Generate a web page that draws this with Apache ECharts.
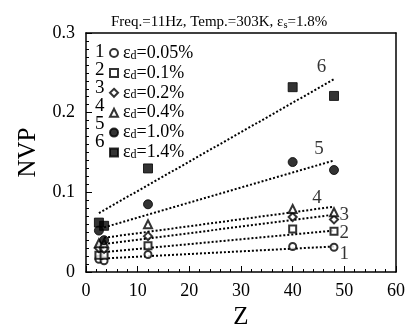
<!DOCTYPE html>
<html><head><meta charset="utf-8">
<script src="https://cdn.jsdelivr.net/npm/echarts@6/dist/echarts.min.js"></script>
<style>html,body{margin:0;padding:0;background:#fff}#c{width:408px;height:327px}</style>
</head><body><div id="c"></div>
<script>
const seriesNames = ['0.05%','0.1%','0.2%','0.4%','1.0%','1.4%'];
const zValues = [2.5, 3.5, 12, 40, 48];
const nvp1 = [0.016, 0.014, 0.022, 0.032, 0.031];
const nvp2 = [0.021, 0.021, 0.033, 0.054, 0.051];
const nvp3 = [0.030, 0.029, 0.045, 0.069, 0.066];
const nvp4 = [0.036, 0.036, 0.060, 0.079, 0.075];
const nvp5 = [0.052, 0.040, 0.085, 0.138, 0.128];
const nvp6 = [0.062, 0.058, 0.130, 0.232, 0.221];
const fitZ = [3.5, 48];
const fit1 = [0.017, 0.032];
const fit2 = [0.025, 0.052];
const fit3 = [0.035, 0.072];
const fit4 = [0.043, 0.082];
const fit5 = [0.056, 0.140];
const fit6Z = [2.5, 48];
const fit6 = [0.074, 0.242];
const lineLabels = ['1','2','3','4','5','6'];
const lineLabelZ = [50, 50, 50, 44.7, 45.1, 45.6];
const lineLabelV = [0.022, 0.049, 0.072, 0.093, 0.155, 0.257];

const allNvp = [nvp1,nvp2,nvp3,nvp4,nvp5,nvp6];
const fits = [fit1,fit2,fit3,fit4,fit5,fit6];
const symbols = ['emptyCircle','emptyRect','emptyDiamond','emptyTriangle','circle','rect'];
const sizes = [7,7,8,8,9,9];
const FONT = 'Liberation Serif';

const series = [];
allNvp.forEach((arr,i)=>{
  series.push({
    name: seriesNames[i], type:'scatter', symbol: symbols[i], symbolSize: sizes[i],
    itemStyle:{color:'#000', borderColor:'#000', borderWidth:1},
    data: zValues.map((z,j)=>[z,arr[j]]), z:3
  });
});
fits.forEach((arr,i)=>{
  const zz = i===5 ? fit6Z : fitZ;
  series.push({
    type:'line', symbol:'none', silent:true,
    lineStyle:{color:'#000', width:2, type:[2,2]},
    data: zz.map((z,j)=>[z,arr[j]]), z:2
  });
});
series.push({
  type:'scatter', symbolSize:0, silent:true,
  data: lineLabels.map((t,i)=>({value:[lineLabelZ[i], lineLabelV[i]], name:t})),
  label:{show:true, position:'inside', formatter:p=>p.name, color:'#000', fontFamily:FONT, fontSize:19}
});

const chart = echarts.init(document.getElementById('c'), null, {renderer:'canvas'});
const legendGraphics = lineLabels.map((t,i)=>({
  type:'text', left: 95, top: 43 + i*17.9,
  style:{text:t, font:'19px "Liberation Serif"', fill:'#000'}
}));
chart.setOption({
  animation:false,
  backgroundColor:'#fff',
  title:{text:'Freq.=11Hz, Temp.=303K, {e|ε}{s|s}=1.8%', left:106, top:9,
    textStyle:{fontFamily:FONT, fontSize:15, fontWeight:'normal', color:'#000',
      rich:{e:{fontFamily:FONT,fontSize:15,color:'#000'}, s:{fontFamily:FONT,fontSize:10.5,color:'#000',padding:[6,0,0,0]}}}},
  grid:{left:86, right:12, top:33, bottom:55, containLabel:false, outerBoundsMode:'none'},
  legend:{
    left:109, top:44, orient:'vertical', itemGap:1.9, itemWidth:8, itemHeight:8, padding:0,
    data: seriesNames,
    formatter: n=>'{e|ε}{s|d}{e|='+n+'}',
    textStyle:{fontFamily:FONT, fontSize:18, color:'#000', lineHeight:16,
      rich:{e:{fontFamily:FONT,fontSize:18,color:'#000',lineHeight:16}, s:{fontFamily:FONT,fontSize:12,color:'#000',padding:[5,0,0,0],lineHeight:16}}}
  },
  graphic: legendGraphics,
  xAxis:[{
    type:'value', min:0, max:60, interval:10, name:'Z', nameLocation:'middle', nameGap:31,
    nameTextStyle:{fontFamily:FONT, fontSize:25, color:'#000'},
    axisLine:{show:true, lineStyle:{color:'#000', width:1.5}},
    axisTick:{show:true, inside:true, length:6, lineStyle:{color:'#000'}},
    minorTick:{show:true, splitNumber:5, length:3, lineStyle:{color:'#000'}},
    axisLabel:{fontFamily:FONT, fontSize:18, color:'#000', margin:10},
    splitLine:{show:false}
  },{type:'value', min:0, max:60, position:'top', axisLine:{show:true,onZero:false,lineStyle:{color:'#000',width:1.5}}, axisTick:{show:false}, axisLabel:{show:false}, splitLine:{show:false}}],
  yAxis:[{
    type:'value', min:0, max:0.3, interval:0.1, name:'NVP', nameLocation:'middle', nameGap:45, nameRotate:90,
    nameTextStyle:{fontFamily:FONT, fontSize:25, color:'#000'},
    axisLine:{show:true, lineStyle:{color:'#000', width:1.5}},
    axisTick:{show:true, inside:true, length:6, lineStyle:{color:'#000'}},
    minorTick:{show:true, splitNumber:10, length:3, lineStyle:{color:'#000'}},
    axisLabel:{fontFamily:FONT, fontSize:18, color:'#000', margin:11, formatter:v=>v===0?'0':String(+v.toFixed(1))},
    splitLine:{show:false}
  },{type:'value', min:0, max:0.3, position:'right', axisLine:{show:true,onZero:false,lineStyle:{color:'#000',width:1.5}}, axisTick:{show:false}, axisLabel:{show:false}, splitLine:{show:false}}],
  series: series
});
</script></body></html>
